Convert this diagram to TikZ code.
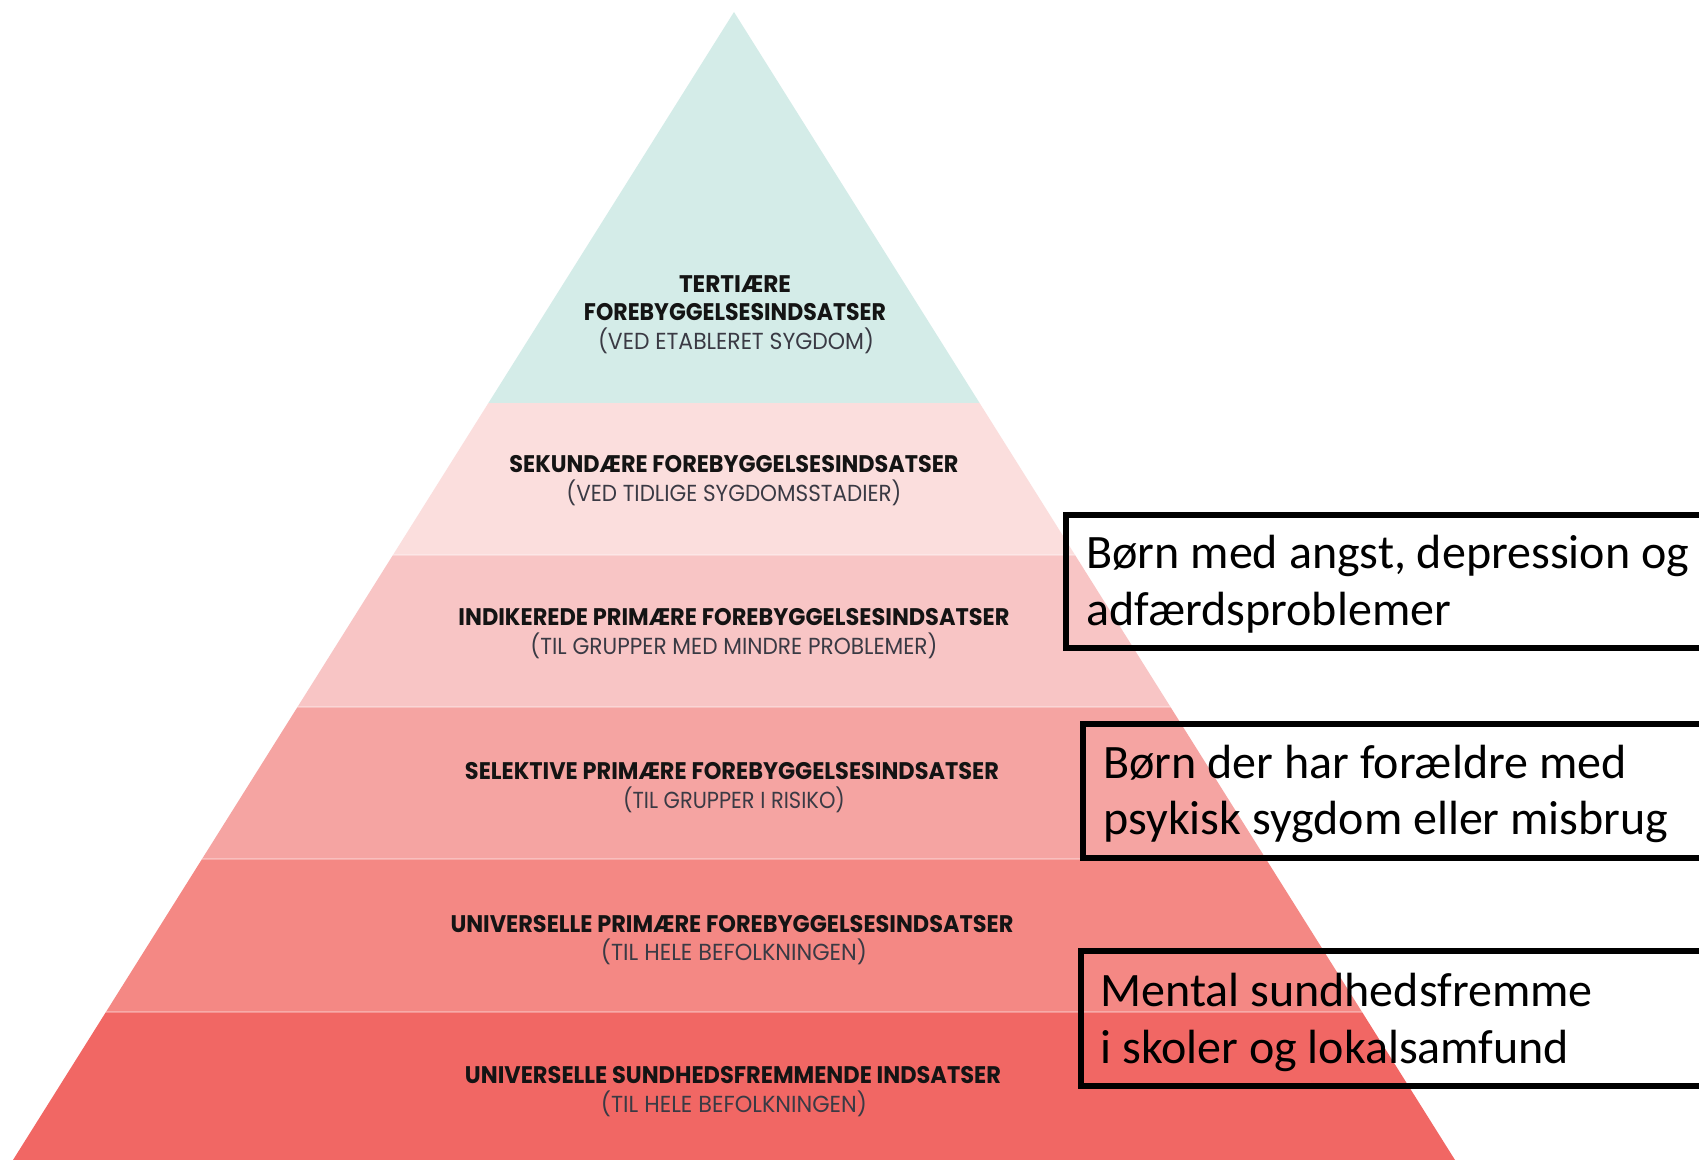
\documentclass[tikz,border=0pt]{standalone}
\usepackage{fontspec}
\usepackage{graphicx}
\setmainfont{Carlito}
\newfontfamily\pyrfont{Poppins}
\definecolor{cteal}{HTML}{D4ECE8}
\definecolor{cbandb}{HTML}{FBDEDD}
\definecolor{cbandc}{HTML}{F8C5C5}
\definecolor{cbandd}{HTML}{F5A4A2}
\definecolor{cbande}{HTML}{F48884}
\definecolor{cbandf}{HTML}{F16764}
\definecolor{clight}{HTML}{3A3A44}
\newcommand{\fitw}[2]{\resizebox{#1}{\height}{#2}}
\tikzset{
  lblb/.style={anchor=base, inner sep=0pt, font=\pyrfont\bfseries\fontsize{12}{14}\selectfont, text=black!92},
  lbll/.style={anchor=base, inner sep=0pt, font=\pyrfont\fontsize{11.6}{14}\selectfont, text=clight},
  boxtxt/.style={anchor=base west, inner sep=0pt, font=\fontsize{24}{28.5}\selectfont, text=black},
  boxline/.style={line width=3pt, draw=black},
  bandsep/.style={draw=white, draw opacity=0.3, line width=1pt},
}
\begin{document}
\begin{tikzpicture}[x=0.5pt,y=-0.5pt]
\useasboundingbox (0,0) rectangle (1699,1160);
\clip (0,0) rectangle (1699,1160);
\fill[white] (0,0) rectangle (1699,1160);
% pyramid
\begin{scope}
  \clip (734,12) -- (1455,1160) -- (13,1160) -- cycle;
  \fill[cteal]  (0,0)    rectangle (1699,403);
  \fill[cbandb] (0,403)  rectangle (1699,555);
  \fill[cbandc] (0,555)  rectangle (1699,707);
  \fill[cbandd] (0,707)  rectangle (1699,859);
  \fill[cbande] (0,859)  rectangle (1699,1012);
  \fill[cbandf] (0,1012) rectangle (1699,1160);
  \draw[bandsep] (0,555) -- (1699,555);
  \draw[bandsep] (0,707) -- (1699,707);
  \draw[bandsep] (0,859) -- (1699,859);
  \draw[bandsep] (0,1012) -- (1699,1012);
\end{scope}
% pyramid labels
\node[lblb] (ta) at (735,293) {\fitw{56pt}{TERTIÆRE}};
\node[lblb] (tb) at (735,321) {\fitw{151pt}{FOREBYGGELSESINDSATSER}};
\node[lbll] (tc) at (736,350) {\fitw{138pt}{(VED ETABLERET SYGDOM)}};
\node[lblb] (sa) at (734,473) {\fitw{224.5pt}{SEKUNDÆRE FOREBYGGELSESINDSATSER}};
\node[lbll] (sb) at (734,502) {\fitw{167.5pt}{(VED TIDLIGE SYGDOMSSTADIER)}};
\node[lblb] (ia) at (734,625) {\fitw{275.5pt}{INDIKEREDE PRIMÆRE FOREBYGGELSESINDSATSER}};
\node[lbll] (ib) at (734,654) {\fitw{203.5pt}{(TIL GRUPPER MED MINDRE PROBLEMER)}};
\node[lblb] (ea) at (732,779) {\fitw{267pt}{SELEKTIVE PRIMÆRE FOREBYGGELSESINDSATSER}};
\node[lbll] (eb) at (734,808) {\fitw{111pt}{(TIL GRUPPER I RISIKO)}};
\node[lblb] (ua) at (732,932) {\fitw{281.5pt}{UNIVERSELLE PRIMÆRE FOREBYGGELSESINDSATSER}};
\node[lbll] (ub) at (734,960) {\fitw{133pt}{(TIL HELE BEFOLKNINGEN)}};
\node[lblb] (va) at (733,1083) {\fitw{268pt}{UNIVERSELLE SUNDHEDSFREMMENDE INDSATSER}};
\node[lbll] (vb) at (734,1112) {\fitw{133pt}{(TIL HELE BEFOLKNINGEN)}};
% boxes
\draw[boxline] (1780,515) -- (1066,515) -- (1066,648) -- (1780,648);
\draw[boxline] (1780,724) -- (1083,724) -- (1083,858) -- (1780,858);
\draw[boxline] (1780,951) -- (1081,951) -- (1081,1086) -- (1780,1086);
\node[boxtxt] (ba) at (1086,569) {Børn med angst, depression og};
\node[boxtxt] (bb) at (1086,626) {adfærdsproblemer};
\node[boxtxt] (ca) at (1103,778) {Børn der har forældre med};
\node[boxtxt] (cb) at (1103,834) {psykisk sygdom eller misbrug};
\node[boxtxt] (da) at (1100,1006) {Mental sundhedsfremme};
\node[boxtxt] (db) at (1100,1063) {i skoler og lokalsamfund};
\end{tikzpicture}
\end{document}
